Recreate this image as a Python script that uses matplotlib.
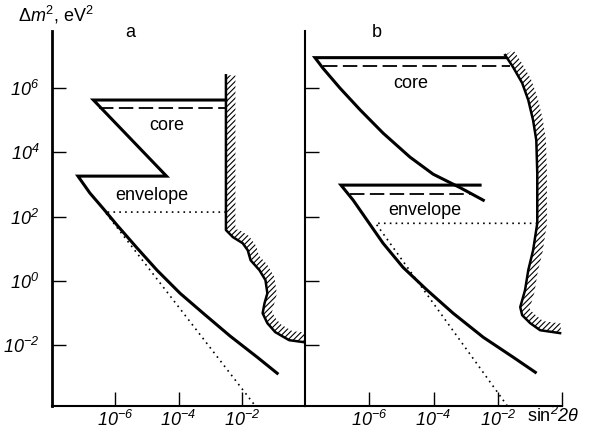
import numpy as np
import matplotlib.pyplot as plt

plt.rcParams['font.family'] = ['Liberation Sans', 'DejaVu Sans']
plt.rcParams['mathtext.fontset'] = 'custom'
# digits in mathtext come from the rm slot, so make it italic for the tick labels
plt.rcParams['mathtext.rm'] = 'Liberation Sans:italic'
plt.rcParams['mathtext.it'] = 'Liberation Sans:italic'
plt.rcParams['mathtext.sf'] = 'Liberation Sans'
plt.rcParams['hatch.linewidth'] = 0.8

# all values are log10 of sin^2(2theta) and log10 of dm^2 (eV^2)
# panel a
a_solid_x = [-2.5, -6.69, -4.38, -7.18, -6.80, -6.39, -5.94, -5.31, -4.68, -3.95, -3.22, -2.37, -1.51, -0.88]
a_solid_y = [5.63, 5.63, 3.26, 3.26, 2.73, 2.26, 1.73, 1.02, 0.33, -0.39, -1.01, -1.72, -2.38, -2.88]
a_dash_x = [-6.5, -2.5]
a_dash_y = [5.38, 5.38]
a_dot_x = [-2.5, -6.32, -1.57]
a_dot_y = [2.14, 2.14, -3.9]
a_limit_x = [-2.5, -2.5, -2.28, -1.97, -1.81, -1.72, -1.44, -1.25, -1.19, -1.28, -1.34, -1.19, -0.94, -0.5, -0.05]
a_limit_y = [6.40, 1.58, 1.36, 1.17, 0.95, 0.64, 0.33, 0.02, -0.39, -0.70, -1.01, -1.32, -1.60, -1.85, -1.91]

# panel b
b_core_x = [-1.77, -7.69, -7.44, -6.91, -6.29, -5.57, -4.73, -4.01, -3.17, -2.45]
b_core_y = [6.95, 6.95, 6.62, 6.00, 5.33, 4.60, 3.85, 3.32, 2.90, 2.51]
b_core_dash_x = [-7.44, -1.61]
b_core_dash_y = [6.69, 6.69]
b_env_x = [-2.55, -6.88, -6.50, -6.07, -5.57, -4.95, -4.20, -3.39, -2.45, -1.52, -0.83]
b_env_y = [2.98, 2.98, 2.51, 1.89, 1.17, 0.42, -0.29, -1.01, -1.76, -2.38, -2.85]
b_env_dash_x = [-6.6, -2.77]
b_env_dash_y = [2.70, 2.70]
b_dot_x = [-0.77, -5.80, -1.70]
b_dot_y = [1.79, 1.79, -3.9]
b_limit_x = [-1.77, -1.52, -1.24, -1.05, -0.90, -0.80, -0.77, -0.77, -0.90, -1.05, -1.15, -1.30, -1.24, -0.99, -0.68, -0.06]
b_limit_y = [7.03, 6.65, 6.16, 5.63, 5.00, 4.38, 3.35, 1.79, 0.95, 0.33, -0.29, -0.82, -1.07, -1.32, -1.54, -1.63]

yticks = [-2, 0, 2, 4, 6]
xticks = [-6, -4, -2]


def hatched(ax, xs, ys, w=0.3):
    x = np.array(xs, dtype=float)
    y = np.array(ys, dtype=float)
    tx = np.gradient(x)
    ty = np.gradient(y)
    n = np.hypot(tx, ty)
    xo = x - ty / n * w
    yo = y + tx / n * w
    px = np.concatenate([x, xo[::-1]])
    py = np.concatenate([y, yo[::-1]])
    ax.fill(10**px, 10**py, facecolor='none', edgecolor='k', hatch='//////', lw=0)
    ax.plot(10**x, 10**y, color='k', lw=1.8)


def p(xs):
    return 10**np.array(xs, dtype=float)


fig = plt.figure(figsize=(5.92, 4.37), dpi=100)
ax_a = fig.add_axes([52/592, 31/437, 253/592, 375/437])
ax_b = fig.add_axes([305/592, 31/437, 257/592, 375/437])

dash = (0, (8, 3))
dot = (0, (1, 2.5))

ax_a.plot(p(a_solid_x), p(a_solid_y), color='k', lw=2.2, solid_joinstyle='miter')
ax_a.plot(p(a_dash_x), p(a_dash_y), color='k', lw=1.3, ls=dash)
ax_a.plot(p(a_dot_x), p(a_dot_y), color='k', lw=1.2, ls=dot)
hatched(ax_a, a_limit_x, a_limit_y)

ax_b.plot(p(b_core_x), p(b_core_y), color='k', lw=2.2, solid_joinstyle='miter')
ax_b.plot(p(b_core_dash_x), p(b_core_dash_y), color='k', lw=1.3, ls=dash)
ax_b.plot(p(b_env_x), p(b_env_y), color='k', lw=2.2, solid_joinstyle='miter')
ax_b.plot(p(b_env_dash_x), p(b_env_dash_y), color='k', lw=1.3, ls=dash)
ax_b.plot(p(b_dot_x), p(b_dot_y), color='k', lw=1.2, ls=dot)
hatched(ax_b, b_limit_x, b_limit_y)

for ax in (ax_a, ax_b):
    ax.set_xscale('log')
    ax.set_yscale('log')
    ax.set_xlim(1e-8, 1e0)
    ax.set_ylim(10**-3.9, 10**7.78)
    ax.spines['top'].set_visible(False)
    ax.spines['right'].set_visible(False)
    ax.spines['bottom'].set_linewidth(1.5)
    ax.minorticks_off()
    ax.set_yticks([10.0**k for k in yticks])
    ax.tick_params(direction='in', length=10, width=1, labelsize=13, pad=3)
    ax.patch.set_alpha(0)

ax_a.spines['left'].set_linewidth(2)
ax_b.spines['left'].set_linewidth(1.5)
ax_a.set_yticklabels(['$10^{%d}$' % k for k in yticks])
ax_a.tick_params(axis='y', pad=9)
ax_b.set_yticklabels([])

ax_a.set_xticks([10.0**k for k in xticks])
ax_a.set_xticklabels(['$10^{%d}$' % k for k in xticks])
ax_b.set_xticks([10.0**k for k in xticks + [0]])
ax_b.set_xticklabels(['$10^{%d}$' % k for k in xticks] + [''])

ax_a.text(10**-4.36, 10**4.85, 'core', fontsize=13, ha='center', va='center')
ax_a.text(10**-4.84, 10**2.67, 'envelope', fontsize=13, ha='center', va='center')
ax_a.text(10**-5.53, 10**7.74, 'a', fontsize=13, ha='center', va='center')
ax_b.text(10**-4.70, 10**6.16, 'core', fontsize=13, ha='center', va='center')
ax_b.text(10**-4.26, 10**2.2, 'envelope', fontsize=13, ha='center', va='center')
ax_b.text(10**-5.76, 10**7.74, 'b', fontsize=13, ha='center', va='center')

fig.text(18/592, 1 - 15/437, '$\\mathsf{\\Delta} m^{\\mathsf{2}}$, eV$^{\\mathsf{2}}$',
         fontsize=13, ha='left', va='center')
fig.text(527/592, 1 - 422/437, '$\\mathsf{sin}^{2}2\\theta$', fontsize=13, ha='left', va='baseline')

fig.savefig('out.png', dpi=100)
